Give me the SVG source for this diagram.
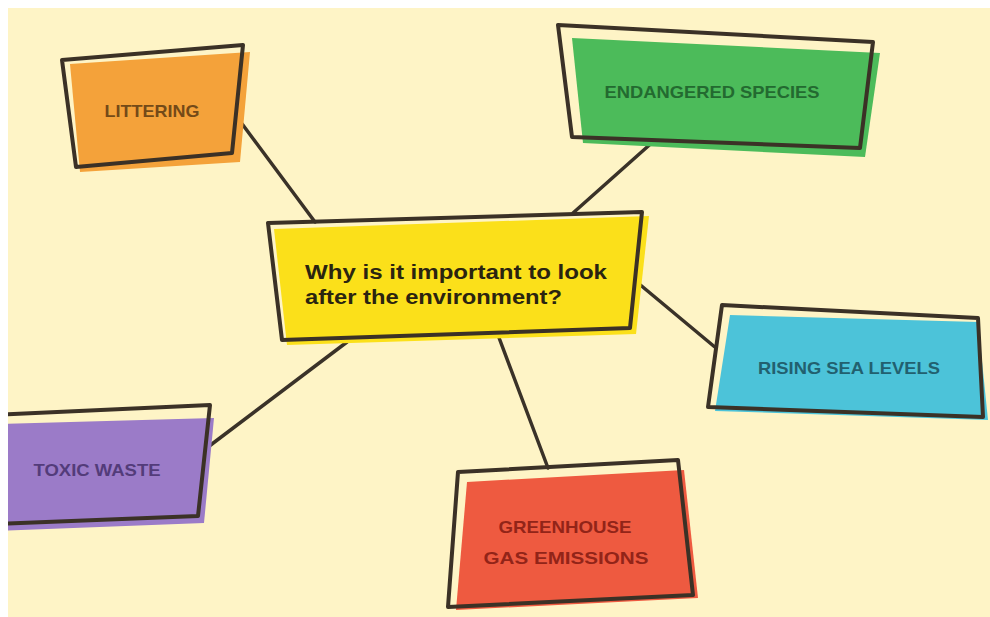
<svg xmlns="http://www.w3.org/2000/svg" width="990" height="617" viewBox="0 0 990 617">
<style>
.bg{fill:#FEF4C6}
.edge{stroke:#3a3228;stroke-width:3.5;stroke-linecap:round;fill:none}
.outline{fill:none;stroke:#3b3126;stroke-width:4;stroke-linejoin:round}
.lbl{font-family:"Liberation Sans",Arial,sans-serif;font-size:17px;font-weight:bold;text-anchor:middle}
.main{font-family:"Liberation Sans",Arial,sans-serif;font-size:20px;font-weight:bold;fill:#2a2410}
</style>
<defs>
<clipPath id="frame"><rect x="8" y="8" width="982" height="609"/></clipPath>
</defs>
<rect x="0" y="0" width="990" height="617" fill="#ffffff"/>
<rect class="bg" x="8" y="8" width="982" height="609"/>
<g id="connectors">
<line class="edge" x1="237" y1="117" x2="315" y2="222"/>
<line class="edge" x1="655" y1="140" x2="573" y2="213"/>
<line class="edge" x1="638" y1="283" x2="716" y2="348"/>
<line class="edge" x1="347" y1="342" x2="208" y2="447"/>
<line class="edge" x1="498" y1="335" x2="548" y2="468"/>
</g>
<g id="node-littering">
<polygon points="70,64 250,52 240,162 80,172" fill="#F4A23A"/>
<polygon class="outline" points="62,60 243,45 232,153 76,167"/>
<text class="lbl" x="152" y="117" fill="#734a18" textLength="95" lengthAdjust="spacingAndGlyphs">LITTERING</text>
</g>
<g id="node-endangered">
<polygon points="572,38 880,53 865,157 583,143" fill="#4CBB5A"/>
<polygon class="outline" points="558,25 873,42 860,148 572,137"/>
<text class="lbl" x="712" y="98" fill="#236a30" textLength="215" lengthAdjust="spacingAndGlyphs">ENDANGERED SPECIES</text>
</g>
<g id="node-center">
<polygon points="274,229 649,216 636,334 287,345" fill="#FBE01A"/>
<polygon class="outline" points="268,223 642,212 630,328 282,340"/>
<text class="main" x="305" y="279" textLength="302" lengthAdjust="spacingAndGlyphs">Why is it important to look</text>
<text class="main" x="305" y="304" textLength="257" lengthAdjust="spacingAndGlyphs">after the environment?</text>
</g>
<g id="node-rising">
<polygon points="730,315 978,322 988,420 715,411" fill="#4CC3D9"/>
<polygon class="outline" points="722,305 978,318 983,417 708,407"/>
<text class="lbl" x="849" y="374" fill="#22606f" textLength="182" lengthAdjust="spacingAndGlyphs">RISING SEA LEVELS</text>
</g>
<g id="node-toxic" clip-path="url(#frame)">
<polygon points="-5,424 214,418 204,523 -5,531" fill="#9B7BC8"/>
<polygon class="outline" points="-8,415 210,405 198,516 -8,524"/>
<text class="lbl" x="97" y="476" fill="#533c7a" textLength="127" lengthAdjust="spacingAndGlyphs">TOXIC WASTE</text>
</g>
<g id="node-greenhouse">
<polygon points="467,482 684,470 698,598 456,610" fill="#EE5A40"/>
<polygon class="outline" points="458,472 678,460 693,595 448,607"/>
<text class="lbl" x="565" y="533" fill="#922418" textLength="133" lengthAdjust="spacingAndGlyphs">GREENHOUSE</text>
<text class="lbl" x="566" y="564" fill="#922418" textLength="165" lengthAdjust="spacingAndGlyphs">GAS EMISSIONS</text>
</g>
</svg>
